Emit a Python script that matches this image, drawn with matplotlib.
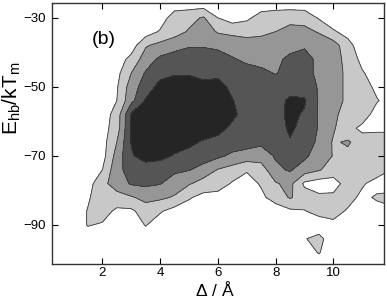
import matplotlib
matplotlib.use("Agg")
import matplotlib.pyplot as plt
import numpy as np

plt.rcParams["font.family"] = ["Liberation Sans", "DejaVu Sans"]
plt.rcParams["mathtext.fontset"] = "custom"
plt.rcParams["mathtext.rm"] = "Liberation Sans"

# grid (delta in Angstrom, E_hb in kT_m)
delta = [0.5, 1.0, 1.5, 2.0, 2.5, 3.0, 3.5, 4.0, 4.5, 5.0, 5.5, 6.0,
         6.5, 7.0, 7.5, 8.0, 8.5, 9.0, 9.5, 10.0, 10.5, 11.0, 11.5, 12.0]
energy = [-26, -30, -34, -38, -42, -46, -50, -54, -58, -62,
          -66, -70, -74, -78, -82, -86, -90, -94, -98, -102]

# population level at each grid point (0 = empty ... 4 = most populated)
density = [
    [0, 0, 0, 0, 0, 0, 0, 0, 0, 0, 0, 0, 0, 0, 0, 0, 0, 0, 0, 0, 0, 0, 0, 0],
    [0, 0, 0, 0, 0, 0, 0, 0, 1.0, 1.2, 1.6, 0.5, 0.0, 0.3, 0.9, 1.1, 1.2, 1.1, 0.4, 0, 0, 0, 0, 0],
    [0, 0, 0, 0, 0, 0, 0, 0.6, 1.1, 1.6, 2.0, 1.4, 1.3, 1.2, 1.3, 1.5, 1.8, 1.8, 1.4, 0.6, 0.2, 0, 0, 0],
    [0, 0, 0, 0, 0, 0, 1.4, 1.8, 2.1, 2.4, 2.4, 2.3, 2.0, 1.9, 1.9, 2.0, 2.2, 2.4, 2.2, 2.0, 0.8, 0, 0, 0],
    [0, 0, 0, 0, 0, 0.8, 2.0, 2.7, 3.0, 3.1, 3.1, 2.9, 2.6, 2.3, 2.2, 2.3, 2.7, 2.8, 2.3, 1.9, 1.2, 0.2, 0, 0],
    [0, 0, 0, 0, 0.2, 1.5, 2.6, 3.2, 3.4, 3.4, 3.4, 3.3, 3.0, 2.9, 2.7, 2.45, 2.8, 2.8, 2.3, 1.9, 1.3, 0.6, 0, 0],
    [0, 0, 0, 0, 0.4, 2.0, 3.0, 3.8, 4.0, 4.0, 3.6, 3.8, 3.3, 3.0, 3.0, 3.0, 3.1, 3.1, 2.4, 1.9, 1.3, 1.1, 0.2, 0],
    [0, 0, 0, 0, 0.5, 2.2, 3.6, 4.0, 4.0, 4.0, 4.0, 4.0, 3.55, 3.1, 3.0, 3.1, 3.7, 3.6, 2.4, 1.9, 1.3, 1.1, 0.6, 0],
    [0, 0, 0, 0, 0.9, 3.6, 4.2, 4.3, 4.3, 4.3, 4.2, 4.0, 3.7, 3.1, 3.0, 3.2, 3.7, 3.4, 2.4, 1.6, 1.3, 1.1, 0, 0],
    [0, 0, 0, 0.1, 1.0, 3.6, 4.2, 4.3, 4.3, 4.2, 4.0, 3.8, 3.3, 3.0, 3.0, 3.2, 3.6, 3.3, 2.4, 1.6, 0.9, 0.2, 0.3, 0.3],
    [0, 0, 0, 0.1, 1.5, 3.55, 4.0, 4.1, 4.0, 3.7, 3.4, 3.2, 3.0, 2.9, 2.7, 2.9, 3.45, 3.0, 2.3, 1.4, 1.6, 1.1, 1.0, 1.0],
    [0, 0, 0, 0.1, 1.9, 3.4, 3.9, 3.8, 3.4, 3.2, 3.0, 2.7, 2.3, 2.1, 2.0, 2.6, 2.8, 2.7, 2.0, 1.45, 1.3, 1.1, 1.0, 1.0],
    [0, 0, 0, 0.5, 2.2, 2.9, 3.0, 2.9, 2.7, 2.55, 2.1, 1.45, 1.1, 0.6, 1.0, 2.3, 2.6, 2.0, 1.6, 1.0, 1.1, 1.0, 0.9, 0.5],
    [0, 0, 0.1, 1.2, 2.0, 2.6, 2.7, 2.55, 2.0, 1.6, 1.1, 1.0, 0.4, 0.1, 0.6, 1.4, 1.8, 0.3, 0.0, 0.1, 0.9, 0.6, 0.2, 0],
    [0, 0, 0.4, 1.0, 1.1, 1.4, 1.8, 1.7, 1.4, 0.6, 0.2, 0.1, 0, 0, 0.3, 0.9, 1.6, 1.0, 0.7, 0.7, 0.8, 0.3, 0.6, 0.8],
    [0, 0, 0.55, 0.9, 0.3, 0.3, 1.0, 0.6, 0.1, 0, 0, 0, 0, 0, 0, 0, 0.3, 0.45, 0.8, 0.8, 0.4, 0, 0.2, 0.3],
    [0, 0, 0.55, 0.4, 0, 0, 0.55, 0, 0, 0, 0, 0, 0, 0, 0, 0, 0, 0, 0, 0.3, 0, 0, 0, 0],
    [0, 0, 0, 0, 0, 0, 0, 0, 0, 0, 0, 0, 0, 0, 0, 0, 0, 0.45, 0.75, 0, 0, 0, 0, 0],
    [0, 0, 0, 0, 0, 0, 0, 0, 0, 0, 0, 0, 0, 0, 0, 0, 0, 0.1, 0.55, 0, 0, 0, 0, 0],
    [0, 0, 0, 0, 0, 0, 0, 0, 0, 0, 0, 0, 0, 0, 0, 0, 0, 0, 0, 0, 0, 0, 0, 0],
]

levels = [0.5, 1.5, 2.5, 3.5, 10]
shades = ["#c8c8c8", "#969696", "#555555", "#252525"]

x_ticks = [2, 4, 6, 8, 10]
y_ticks = [-30, -50, -70, -90]

fig = plt.figure(figsize=(3.87, 3.0), dpi=100)
ax = fig.add_axes([0.134, 0.12, 0.858, 0.87])

X, Y = np.meshgrid(delta, energy)
Z = np.array(density)
ax.contourf(X, Y, Z, levels=levels, colors=shades)
ax.contour(X, Y, Z, levels=levels[:-1], colors="#383838", linewidths=0.6)

ax.set_xlim(0.25, 11.75)
ax.set_ylim(-101.3, -25.7)
ax.set_xticks(x_ticks)
ax.set_yticks(y_ticks)
ax.tick_params(direction="in", top=True, right=True, length=4, width=0.8,
               labelsize=9.5)
ax.tick_params(axis="x", pad=2)
ax.tick_params(axis="y", pad=4)
for s in ax.spines.values():
    s.set_linewidth(1.0)
    s.set_color("#333333")

# axis titles placed where they sit in the original figure
fig.text(215 / 387, 1 / 300, r"$\Delta$ / Å", fontsize=12.5,
         ha="center", va="bottom")
fig.text(12 / 387, 1 - 98 / 300,
         r"E$_{\mathregular{hb}}$/kT$_{\mathregular{m}}$", fontsize=15,
         rotation=90, ha="center", va="center")
ax.text(2.05, -36.4, "(b)", fontsize=14, ha="center", va="center")

fig.savefig("out.png", dpi=100)
